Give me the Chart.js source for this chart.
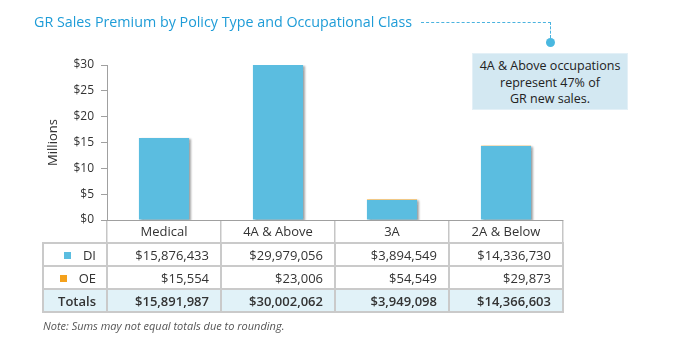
<!DOCTYPE html>
<html>
<head>
<meta charset="utf-8">
<script src="https://cdn.jsdelivr.net/npm/chart.js@4"></script>
<style>
  body { margin: 0; background: #fff; font-family: "Open Sans", sans-serif; }
  #wrap { position: relative; width: 674px; height: 345px; overflow: hidden; }
  #chart-canvas { position: absolute; left: 0; top: 0; }
  #title { position: absolute; left: 34px; top: 12px; font-size: 14.3px; color: #1e9cd7; white-space: nowrap; }
  .dash-h { position: absolute; left: 421px; top: 22px; width: 130px; border-top: 1px dashed #4ab3df; }
  .dash-v { position: absolute; left: 550px; top: 22px; height: 16px; border-left: 1px dashed #4ab3df; }
  .dot { position: absolute; left: 546px; top: 38px; width: 9px; height: 9px; border-radius: 50%; background: #4ab8e0; }
  #callout { position: absolute; left: 472px; top: 53px; width: 156px; height: 57px; background: #d3e8f2;
    box-sizing: border-box; border: 1px solid #e3f0f7; text-align: center; font-size: 12.5px; line-height: 16.5px;
    color: #222; padding-top: 4px; }
  #table { position: absolute; left: 42px; top: 242px; border-collapse: collapse; table-layout: fixed; width: 522px;
    font-size: 13px; color: #333; }
  #table td { border: 2px solid #cacaca; height: 21px; padding: 0 11px 0 0; text-align: right; white-space: nowrap; overflow: hidden; }
  #table td.lbl { padding-right: 10px; }
  #table tr.totals td { background: #e1f2f8; font-weight: 600; }
  .sq { display: inline-block; width: 7px; height: 7px; margin-right: 12px; vertical-align: 1px; }
  #note { position: absolute; left: 43px; top: 318px; font-size: 11px; font-style: italic; color: #555; }
</style>
</head>
<body>
<div id="wrap">
  <canvas id="chart-canvas" width="674" height="345"></canvas>
  <div id="title">GR Sales Premium by Policy Type and Occupational Class</div>
  <div class="dash-h"></div>
  <div class="dash-v"></div>
  <div class="dot"></div>
  <div id="callout">4A &amp; Above occupations<br>represent 47% of<br>GR new sales.</div>
  <table id="table">
    <colgroup><col style="width:64px"><col style="width:114px"><col style="width:114px"><col style="width:114px"><col style="width:114px"></colgroup>
  </table>
  <div id="note">Note: Sums may not equal totals due to rounding.</div>
</div>
<script>
const categories = ['Medical', '4A & Above', '3A', '2A & Below'];
const diSales = [15876433, 29979056, 3894549, 14336730];
const oeSales = [15554, 23006, 54549, 29873];
const totals = [15891987, 30002062, 3949098, 14366603];
const yTicks = [0, 5, 10, 15, 20, 25, 30];

const diColor = '#5bbde0';
const oeColor = '#f4a11c';

let chartCanvas = document.getElementById('chart-canvas');
let tableEl = document.getElementById('table');

function money(v) {
    return '$' + v.toLocaleString('en-US');
}

// table rows under the axis
function addRow(label, values, color, cls) {
    let tr = document.createElement('tr');
    if (cls) tr.className = cls;
    let first = document.createElement('td');
    first.className = 'lbl';
    if (color) {
        let sq = document.createElement('span');
        sq.className = 'sq';
        sq.style.background = color;
        first.appendChild(sq);
    }
    first.appendChild(document.createTextNode(label));
    tr.appendChild(first);
    values.forEach(v => {
        let td = document.createElement('td');
        td.textContent = money(v);
        tr.appendChild(td);
    });
    tableEl.appendChild(tr);
}
addRow('DI', diSales, diColor);
addRow('OE', oeSales, oeColor);
addRow('Totals', totals, null, 'totals');

// soft shadow on the bars
const barShadow = {
    id: 'barShadow',
    beforeDatasetsDraw(chart) {
        let ctx = chart.ctx;
        ctx.save();
        ctx.shadowColor = 'rgba(0,0,0,0.35)';
        ctx.shadowBlur = 2;
        ctx.shadowOffsetX = 2;
        ctx.shadowOffsetY = 1;
    },
    afterDatasetsDraw(chart) {
        chart.ctx.restore();
    }
};

const myChart = new Chart(chartCanvas, {
    type: 'bar',
    data: {
        labels: categories,
        datasets: [{
            label: 'DI',
            data: diSales.map(v => v / 1e6),
            backgroundColor: diColor,
            borderWidth: 0,
            categoryPercentage: 1,
            barPercentage: 0.44
        }, {
            label: 'OE',
            data: oeSales.map(v => v / 1e6),
            backgroundColor: oeColor,
            borderWidth: 0,
            categoryPercentage: 1,
            barPercentage: 0.44
        }]
    },
    options: {
        responsive: false,
        animation: false,
        devicePixelRatio: 1,
        layout: { padding: { left: 0, top: 65, right: 111, bottom: 102 } },
        plugins: { legend: { display: false }, tooltip: { enabled: false } },
        scales: {
            x: {
                stacked: true,
                grid: { offset: true, drawOnChartArea: false, tickLength: 23, color: '#c6c6c6', lineWidth: 1.5 },
                border: { color: '#a0a0a0' },
                ticks: { color: '#333', font: { family: 'Open Sans', size: 13 }, padding: -19 },
                afterFit: s => { s.height = 23; }
            },
            y: {
                stacked: true,
                min: 0,
                max: 30,
                afterBuildTicks: s => { s.ticks = yTicks.map(v => ({ value: v })); },
                grid: { drawOnChartArea: false, tickLength: 6, color: '#a0a0a0' },
                border: { color: '#a0a0a0' },
                ticks: {
                    color: '#333',
                    font: { family: 'Open Sans', size: 12 },
                    padding: 7,
                    callback: v => '$' + v
                },
                title: {
                    display: true,
                    text: 'Millions',
                    color: '#333',
                    font: { family: 'Open Sans', size: 13 },
                    padding: { top: 45, bottom: 0 }
                },
                afterFit: s => { s.width = 107; }
            }
        }
    },
    plugins: [barShadow]
});
</script>
</body>
</html>
